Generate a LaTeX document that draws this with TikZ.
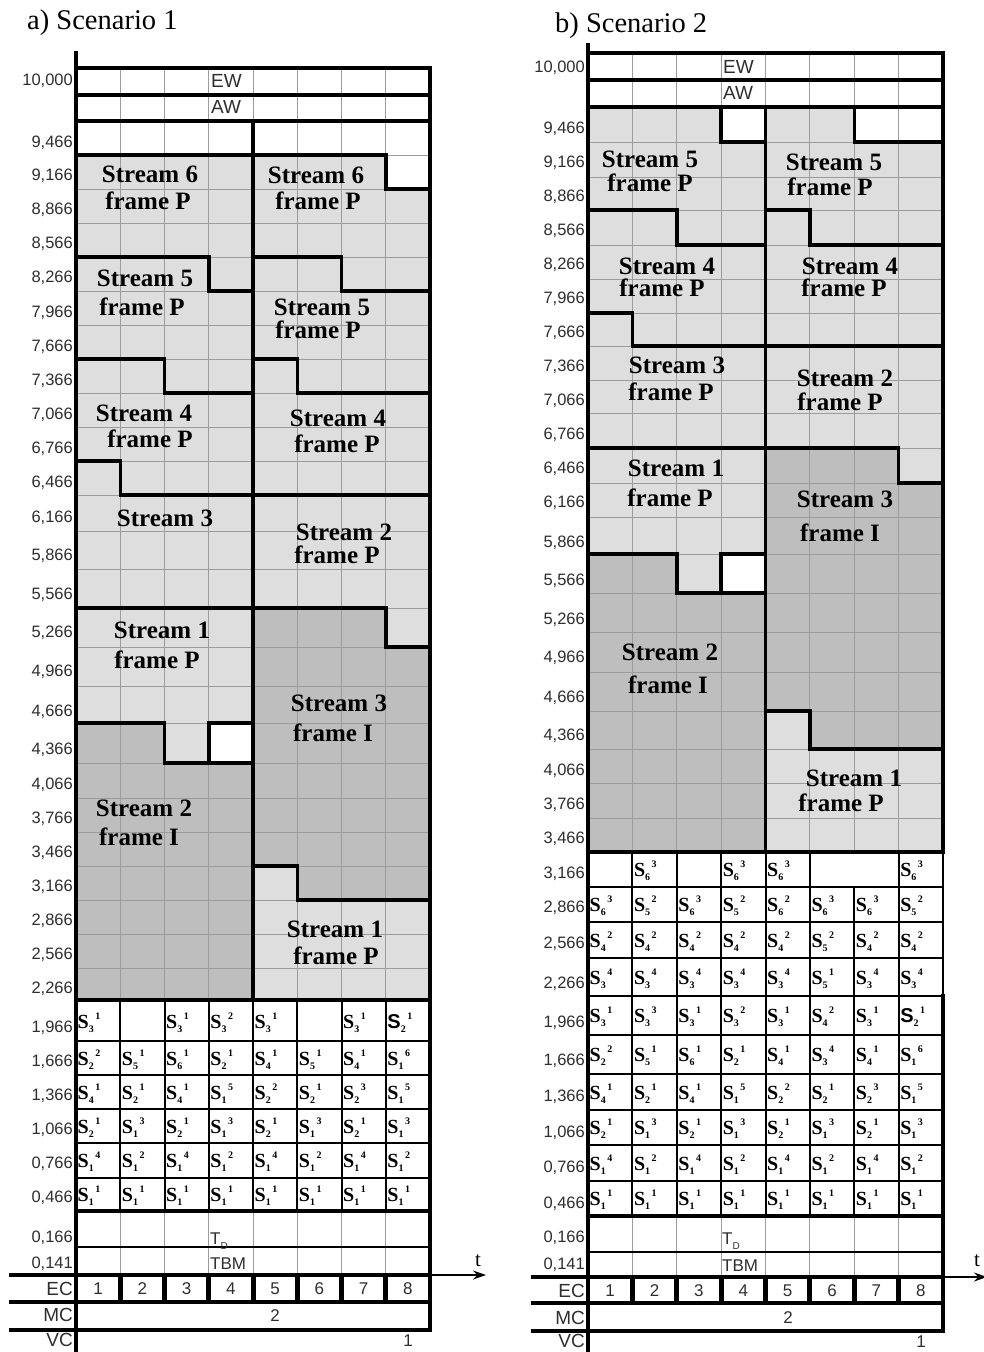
\documentclass[tikz,border=0pt]{standalone}
\usepackage{fontspec}
\setmainfont{Liberation Serif}
\setsansfont{Liberation Sans}
\usetikzlibrary{arrows.meta}
\definecolor{lightfill}{HTML}{DEDEDE}
\definecolor{darkfill}{HTML}{BEBEBE}
\definecolor{gridc}{HTML}{9C9C9C}
\definecolor{labc}{HTML}{2E2E2E}
\newcommand{\SCsub}[1]{\rlap{\raisebox{-4pt}{\fontsize{10}{10}\selectfont\bfseries #1}}}
\newcommand{\SCsup}[1]{\kern6.5pt\raisebox{9pt}{\fontsize{10}{10}\selectfont\bfseries #1}}
\newcommand{\SCell}[2]{\textbf{S}\SCsub{#1}\SCsup{#2}}
\newcommand{\SCsans}[2]{{\sffamily\bfseries S}\SCsub{#1}\SCsup{#2}}
\newcommand{\srow}[5]{\foreach \cellt [count=\i from 0] in {#5} {\node[scell] (#1-\i) at ({#2+#3*\i+1.5},#4) {\cellt};}}
\def\shapesA{%
lightfill/(a0-1) -- (a4-1) -- (a4-5) -- (a3-5) -- (a3-4) -- (a0-4) -- cycle,%
lightfill/(a0-4) -- (a3-4) -- (a3-5) -- (a4-5) -- (a4-8) -- (a2-8) -- (a2-7) -- (a0-7) -- cycle,%
lightfill/(a0-7) -- (a2-7) -- (a2-8) -- (a4-8) -- (a4-11) -- (a1-11) -- (a1-10) -- (a0-10) -- cycle,%
lightfill/(a0-10) -- (a1-10) -- (a1-11) -- (a4-11) -- (a4-14) -- (a0-14) -- cycle,%
lightfill/(a0-14) -- (a4-14) -- (a4-17) -- (a3-17) -- (a3-18) -- (a2-18) -- (a2-17) -- (a0-17) -- cycle,%
darkfill/(a0-17) -- (a2-17) -- (a2-18) -- (a4-18) -- (a4-25) -- (a0-25) -- cycle,%
lightfill/(a4-1) -- (a7-1) -- (a7-2) -- (a8-2) -- (a8-5) -- (a6-5) -- (a6-4) -- (a4-4) -- cycle,%
lightfill/(a4-4) -- (a6-4) -- (a6-5) -- (a8-5) -- (a8-8) -- (a5-8) -- (a5-7) -- (a4-7) -- cycle,%
lightfill/(a4-7) -- (a5-7) -- (a5-8) -- (a8-8) -- (a8-11) -- (a4-11) -- cycle,%
lightfill/(a4-11) -- (a8-11) -- (a8-15) -- (a7-15) -- (a7-14) -- (a4-14) -- cycle,%
darkfill/(a4-14) -- (a7-14) -- (a7-15) -- (a8-15) -- (a8-22) -- (a5-22) -- (a5-21) -- (a4-21) -- cycle,%
lightfill/(a4-21) -- (a5-21) -- (a5-22) -- (a8-22) -- (a8-25) -- (a4-25) -- cycle}
\def\shapesB{%
lightfill/(b0-0) -- (b3-0) -- (b3-1) -- (b4-1) -- (b4-4) -- (b2-4) -- (b2-3) -- (b0-3) -- cycle,%
lightfill/(b0-3) -- (b2-3) -- (b2-4) -- (b4-4) -- (b4-7) -- (b1-7) -- (b1-6) -- (b0-6) -- cycle,%
lightfill/(b0-6) -- (b1-6) -- (b1-7) -- (b4-7) -- (b4-10) -- (b0-10) -- cycle,%
lightfill/(b0-10) -- (b4-10) -- (b4-13) -- (b3-13) -- (b3-14) -- (b2-14) -- (b2-13) -- (b0-13) -- cycle,%
darkfill/(b0-13) -- (b2-13) -- (b2-14) -- (b4-14) -- (b4-21) -- (b0-21) -- cycle,%
lightfill/(b4-0) -- (b6-0) -- (b6-1) -- (b8-1) -- (b8-4) -- (b5-4) -- (b5-3) -- (b4-3) -- cycle,%
lightfill/(b4-3) -- (b5-3) -- (b5-4) -- (b8-4) -- (b8-7) -- (b4-7) -- cycle,%
lightfill/(b4-7) -- (b8-7) -- (b8-11) -- (b7-11) -- (b7-10) -- (b4-10) -- cycle,%
darkfill/(b4-10) -- (b7-10) -- (b7-11) -- (b8-11) -- (b8-18) -- (b5-18) -- (b5-17) -- (b4-17) -- cycle,%
lightfill/(b4-17) -- (b5-17) -- (b5-18) -- (b8-18) -- (b8-21) -- (b4-21) -- cycle}
\begin{document}
\begin{tikzpicture}[x=1pt,y=-1pt,
  streamtxt/.style={font=\fontsize{25}{25}\selectfont\bfseries, inner sep=0pt},
  ylab/.style={font=\fontsize{16.5}{16.5}\selectfont\sffamily, text=labc, anchor=east, inner sep=0pt},
  rowlab/.style={font=\fontsize{19}{19}\selectfont\sffamily, text=labc, anchor=east, inner sep=0pt},
  numlab/.style={font=\fontsize{17}{17}\selectfont\sffamily, text=labc, inner sep=0pt},
  toplab/.style={font=\fontsize{19}{19}\selectfont\sffamily, text=labc, anchor=west, inner sep=0pt},
  smalllab/.style={font=\fontsize{17}{17}\selectfont\sffamily, text=labc, anchor=base west, inner sep=0pt},
  scell/.style={font=\fontsize{20}{20}\selectfont, anchor=base west, inner sep=0pt},
  titletxt/.style={font=\fontsize{28.5}{28.5}\selectfont, anchor=base west, inner sep=0pt},
  tlab/.style={font=\fontsize{21}{21}\selectfont, inner sep=0pt},
  strokeb/.style={line width=3.5pt, line join=miter, line cap=rect},
  frameln/.style={line width=4.5pt, line join=miter, line cap=rect},
  gridln/.style={draw=gridc, line width=0.8pt},
  cellline/.style={line width=2pt},
  thinline/.style={line width=1.4pt},
  ecsep/.style={line width=5pt},
  timearrow/.style={line width=1.2pt, -{Stealth[length=13pt,width=9pt]}},
]
\useasboundingbox (0,0) rectangle (984,1352);

% ---------- coordinates ----------
\foreach \c in {0,...,8}{\foreach \r/\y in {0/121,1/155,2/189,3/223,4/257,5/291,6/325,7/359,8/393,9/427,10/461,11/495,12/531,13/569,14/608,15/647,16/686,17/723,18/763,19/798,20/832,21/866,22/900,23/934,24/968,25/1000}{\coordinate (a\c-\r) at ({76+44.25*\c},\y);}}
\foreach \c in {0,...,8}{\foreach \r/\y in {0/107,1/142,2/177,3/210,4/245,5/279,6/313,7/346,8/380,9/413,10/448,11/483,12/517,13/554,14/593,15/632,16/672,17/711,18/749,19/783,20/818,21/852}{\coordinate (b\c-\r) at ({588+44.375*\c},\y);}}

% ---------- fills ----------
\foreach \col/\pth in \shapesA {\fill[\col] \pth;}
\foreach \col/\pth in \shapesB {\fill[\col] \pth;}

% ---------- grid ----------
\foreach \c in {1,...,7}{
  \draw[gridln] ({76+44.25*\c},68) -- ({76+44.25*\c},1000);
  \draw[gridln] ({76+44.25*\c},1211) -- ({76+44.25*\c},1275);
  \draw[gridln] ({588+44.375*\c},53) -- ({588+44.375*\c},852);
  \draw[gridln] ({588+44.375*\c},1216) -- ({588+44.375*\c},1277);
}
\foreach \r in {1,...,24}{\draw[gridln] (a0-\r) -- (a8-\r);}
\foreach \r in {1,...,20}{\draw[gridln] (b0-\r) -- (b8-\r);}

% ---------- stream borders ----------
\foreach \col/\pth in \shapesA {\draw[strokeb] \pth;}
\foreach \col/\pth in \shapesB {\draw[strokeb] \pth;}
\draw[strokeb] (a4-0) -- (a4-25);
\draw[strokeb] (b4-0) -- (b4-21);

% ---------- panel a cells and frame ----------
\foreach \y in {1041,1075,1109,1143,1178}{\draw[cellline] (76,\y) -- (430,\y);}
\foreach \c in {1,...,7}{\draw[cellline] ({76+44.25*\c},1000) -- ({76+44.25*\c},1211);}
\draw[frameln] (76,1211) -- (430,1211);
\draw[thinline] (76,1247) -- (430,1247);
\draw[frameln] (11,1275) -- (430,1275);
\draw[frameln] (11,1302) -- (430,1302);
\draw[frameln] (11,1330) -- (430,1330);
\foreach \c in {1,...,7}{\draw[ecsep] ({76+44.25*\c},1275) -- ({76+44.25*\c},1302);}
\draw[frameln] (76,68) -- (430,68) -- (430,1330);
\draw[frameln] (76,95) -- (430,95);
\draw[frameln] (76,121) -- (430,121);
\draw[frameln] (76,53) -- (76,1352);
\coordinate (aT0) at (430,1275);
\coordinate (aT1) at (486,1275);
\draw[timearrow] (aT0) -- (aT1);

% ---------- panel b cells and frame ----------
\foreach \y in {887,922,958,996,1035,1074,1110,1145,1181}{\draw[cellline] (588,\y) -- (943,\y);}
\foreach \c in {1,...,5,7}{\draw[cellline] ({588+44.375*\c},852) -- ({588+44.375*\c},1216);}
\draw[cellline] ({588+44.375*6},887) -- ({588+44.375*6},1216);
\draw[frameln] (588,1216) -- (943,1216);
\draw[thinline] (588,1252) -- (943,1252);
\draw[frameln] (533,1277) -- (943,1277);
\draw[frameln] (533,1303) -- (943,1303);
\draw[frameln] (533,1331) -- (943,1331);
\foreach \c in {1,...,7}{\draw[ecsep] ({588+44.375*\c},1277) -- ({588+44.375*\c},1303);}
\draw[frameln] (588,53) -- (943,53) -- (943,852);
\draw[thinline] (943,852) -- (943,996);
\draw[frameln] (943,996) -- (943,1331);
\draw[frameln] (588,80) -- (943,80);
\draw[frameln] (588,107) -- (943,107);
\draw[frameln] (588,45) -- (588,1352);
\coordinate (bT0) at (943,1277);
\coordinate (bT1) at (987,1277);
\draw[timearrow] (bT0) -- (bT1);

% ---------- titles ----------
\node[titletxt] (titleA) at (27,29) {a) Scenario 1};
\node[titletxt] (titleB) at (555,32) {b) Scenario 2};

% ---------- y labels ----------
\foreach \v/\y [count=\k] in {10{,}000/81, 9{,}466/143, 9{,}166/176, 8{,}866/210, 8{,}566/244, 8{,}266/278, 7{,}966/313, 7{,}666/347, 7{,}366/381, 7{,}066/415, 6{,}766/449, 6{,}466/483, 6{,}166/518, 5{,}866/556, 5{,}566/595, 5{,}266/633, 4{,}966/672, 4{,}666/712, 4{,}366/750, 4{,}066/785, 3{,}766/819, 3{,}466/853, 3{,}166/887, 2{,}866/921, 2{,}566/955, 2{,}266/989, 1{,}966/1028, 1{,}666/1062, 1{,}366/1096, 1{,}066/1130, 0{,}766/1164, 0{,}466/1198, 0{,}166/1238, 0{,}141/1264}
  {\node[ylab] (ay\k) at (73,\y) {\v};}
\foreach \v/\y [count=\k] in {10{,}000/68, 9{,}466/129, 9{,}166/163, 8{,}866/197, 8{,}566/231, 8{,}266/265, 7{,}966/299, 7{,}666/333, 7{,}366/367, 7{,}066/401, 6{,}766/435, 6{,}466/469, 6{,}166/503, 5{,}866/543, 5{,}566/581, 5{,}266/620, 4{,}966/658, 4{,}666/698, 4{,}366/736, 4{,}066/771, 3{,}766/805, 3{,}466/839, 3{,}166/874, 2{,}866/908, 2{,}566/944, 2{,}266/984, 1{,}966/1023, 1{,}666/1061, 1{,}366/1097, 1{,}066/1133, 0{,}766/1168, 0{,}466/1204, 0{,}166/1238, 0{,}141/1265}
  {\node[ylab] (by\k) at (585,\y) {\v};}

% ---------- top and bottom row labels ----------
\node[toplab] (aEW) at (211,81) {EW};
\node[toplab] (aAW) at (211,107) {AW};
\node[toplab] (bEW) at (723,67) {EW};
\node[toplab] (bAW) at (723,93) {AW};
\node[smalllab] (aTD) at (210,1244) {T\raisebox{-5pt}{\fontsize{10}{10}\selectfont D}};
\node[smalllab] (aTBM) at (210,1269.5) {TBM};
\node[smalllab] (bTD) at (722,1244) {T\raisebox{-5pt}{\fontsize{10}{10}\selectfont D}};
\node[smalllab] (bTBM) at (722,1271) {TBM};
\node[rowlab] (aEC) at (73,1289) {EC};
\node[rowlab] (aMC) at (73,1315) {MC};
\node[rowlab] (aVC) at (73,1340) {VC};
\node[rowlab] (bEC) at (585,1291) {EC};
\node[rowlab] (bMC) at (585,1318) {MC};
\node[rowlab] (bVC) at (585,1341) {VC};
\foreach \n in {1,...,8}{
  \node[numlab] (aECn\n) at ({76+44.25*(\n-0.5)},1289) {\n};
  \node[numlab] (bECn\n) at ({588+44.375*(\n-0.5)},1291) {\n};
}
\node[numlab] (aMCv) at (275,1316) {2};
\node[numlab] (aVCv) at (408,1341) {1};
\node[numlab] (bMCv) at (788,1318) {2};
\node[numlab] (bVCv) at (921,1342) {1};
\node[tlab] (aTlab) at (478,1261) {t};
\node[tlab] (bTlab) at (977,1261) {t};

% ---------- stream labels panel a ----------
\node[streamtxt] (aL6a) at (150,174) {Stream 6};
\node[streamtxt] (aL6b) at (148,201) {frame P};
\node[streamtxt] (aR6a) at (316,175) {Stream 6};
\node[streamtxt] (aR6b) at (318,201) {frame P};
\node[streamtxt] (aL5a) at (145,278) {Stream 5};
\node[streamtxt] (aL5b) at (142,307) {frame P};
\node[streamtxt] (aR5a) at (322,307) {Stream 5};
\node[streamtxt] (aR5b) at (318,330) {frame P};
\node[streamtxt] (aL4a) at (144,413) {Stream 4};
\node[streamtxt] (aL4b) at (150,439) {frame P};
\node[streamtxt] (aR4a) at (338,418) {Stream 4};
\node[streamtxt] (aR4b) at (337,444) {frame P};
\node[streamtxt] (aL3a) at (165,518) {Stream 3};
\node[streamtxt] (aR2a) at (344,532) {Stream 2};
\node[streamtxt] (aR2b) at (337,555) {frame P};
\node[streamtxt] (aL1a) at (162,630) {Stream 1};
\node[streamtxt] (aL1b) at (157,660) {frame P};
\node[streamtxt] (aR3a) at (339,703) {Stream 3};
\node[streamtxt] (aR3b) at (333,733) {frame I};
\node[streamtxt] (aL2a) at (144,808) {Stream 2};
\node[streamtxt] (aL2b) at (139,837) {frame I};
\node[streamtxt] (aR1a) at (335,929) {Stream 1};
\node[streamtxt] (aR1b) at (336,956) {frame P};

% ---------- stream labels panel b ----------
\node[streamtxt] (bL5a) at (650,159) {Stream 5};
\node[streamtxt] (bL5b) at (650,183) {frame P};
\node[streamtxt] (bR5a) at (834,162) {Stream 5};
\node[streamtxt] (bR5b) at (830,187) {frame P};
\node[streamtxt] (bL4a) at (667,266) {Stream 4};
\node[streamtxt] (bL4b) at (662,288) {frame P};
\node[streamtxt] (bR4a) at (850,266) {Stream 4};
\node[streamtxt] (bR4b) at (844,288) {frame P};
\node[streamtxt] (bL3a) at (677,365) {Stream 3};
\node[streamtxt] (bL3b) at (671,392) {frame P};
\node[streamtxt] (bR2a) at (845,378) {Stream 2};
\node[streamtxt] (bR2b) at (840,402) {frame P};
\node[streamtxt] (bL1a) at (676,468) {Stream 1};
\node[streamtxt] (bL1b) at (670,498) {frame P};
\node[streamtxt] (bR3a) at (845,499) {Stream 3};
\node[streamtxt] (bR3b) at (840,533) {frame I};
\node[streamtxt] (bL2a) at (670,652) {Stream 2};
\node[streamtxt] (bL2b) at (668,685) {frame I};
\node[streamtxt] (bR1a) at (854,778) {Stream 1};
\node[streamtxt] (bR1b) at (841,803) {frame P};

% ---------- S cells panel a ----------
\srow{aSa}{76}{44.25}{1028.5}{{\SCell31},{},{\SCell31},{\SCell32},{\SCell31},{},{\SCell31},{\SCsans21}}
\srow{aSb}{76}{44.25}{1065}{{\SCell22},{\SCell51},{\SCell61},{\SCell21},{\SCell41},{\SCell51},{\SCell41},{\SCell16}}
\srow{aSc}{76}{44.25}{1099}{{\SCell41},{\SCell21},{\SCell41},{\SCell15},{\SCell22},{\SCell21},{\SCell23},{\SCell15}}
\srow{aSd}{76}{44.25}{1133}{{\SCell21},{\SCell13},{\SCell21},{\SCell13},{\SCell21},{\SCell13},{\SCell21},{\SCell13}}
\srow{aSe}{76}{44.25}{1167.5}{{\SCell14},{\SCell12},{\SCell14},{\SCell12},{\SCell14},{\SCell12},{\SCell14},{\SCell12}}
\srow{aSf}{76}{44.25}{1201.5}{{\SCell11},{\SCell11},{\SCell11},{\SCell11},{\SCell11},{\SCell11},{\SCell11},{\SCell11}}

% ---------- S cells panel b ----------
\srow{bSa}{588}{44.375}{876.5}{{},{\SCell63},{},{\SCell63},{\SCell63},{},{},{\SCell63}}
\srow{bSb}{588}{44.375}{911.5}{{\SCell63},{\SCell52},{\SCell63},{\SCell52},{\SCell62},{\SCell63},{\SCell63},{\SCell52}}
\srow{bSc}{588}{44.375}{947}{{\SCell42},{\SCell42},{\SCell42},{\SCell42},{\SCell42},{\SCell52},{\SCell42},{\SCell42}}
\srow{bSd}{588}{44.375}{984}{{\SCell34},{\SCell34},{\SCell34},{\SCell34},{\SCell34},{\SCell51},{\SCell34},{\SCell34}}
\srow{bSe}{588}{44.375}{1022.5}{{\SCell31},{\SCell33},{\SCell31},{\SCell32},{\SCell31},{\SCell42},{\SCell31},{\SCsans21}}
\srow{bSf}{588}{44.375}{1061.5}{{\SCell22},{\SCell51},{\SCell61},{\SCell21},{\SCell41},{\SCell34},{\SCell41},{\SCell16}}
\srow{bSg}{588}{44.375}{1099}{{\SCell41},{\SCell21},{\SCell41},{\SCell15},{\SCell22},{\SCell21},{\SCell23},{\SCell15}}
\srow{bSh}{588}{44.375}{1134.5}{{\SCell21},{\SCell13},{\SCell21},{\SCell13},{\SCell21},{\SCell13},{\SCell21},{\SCell13}}
\srow{bSi}{588}{44.375}{1170}{{\SCell14},{\SCell12},{\SCell14},{\SCell12},{\SCell14},{\SCell12},{\SCell14},{\SCell12}}
\srow{bSj}{588}{44.375}{1205.5}{{\SCell11},{\SCell11},{\SCell11},{\SCell11},{\SCell11},{\SCell11},{\SCell11},{\SCell11}}
\end{tikzpicture}
\end{document}
